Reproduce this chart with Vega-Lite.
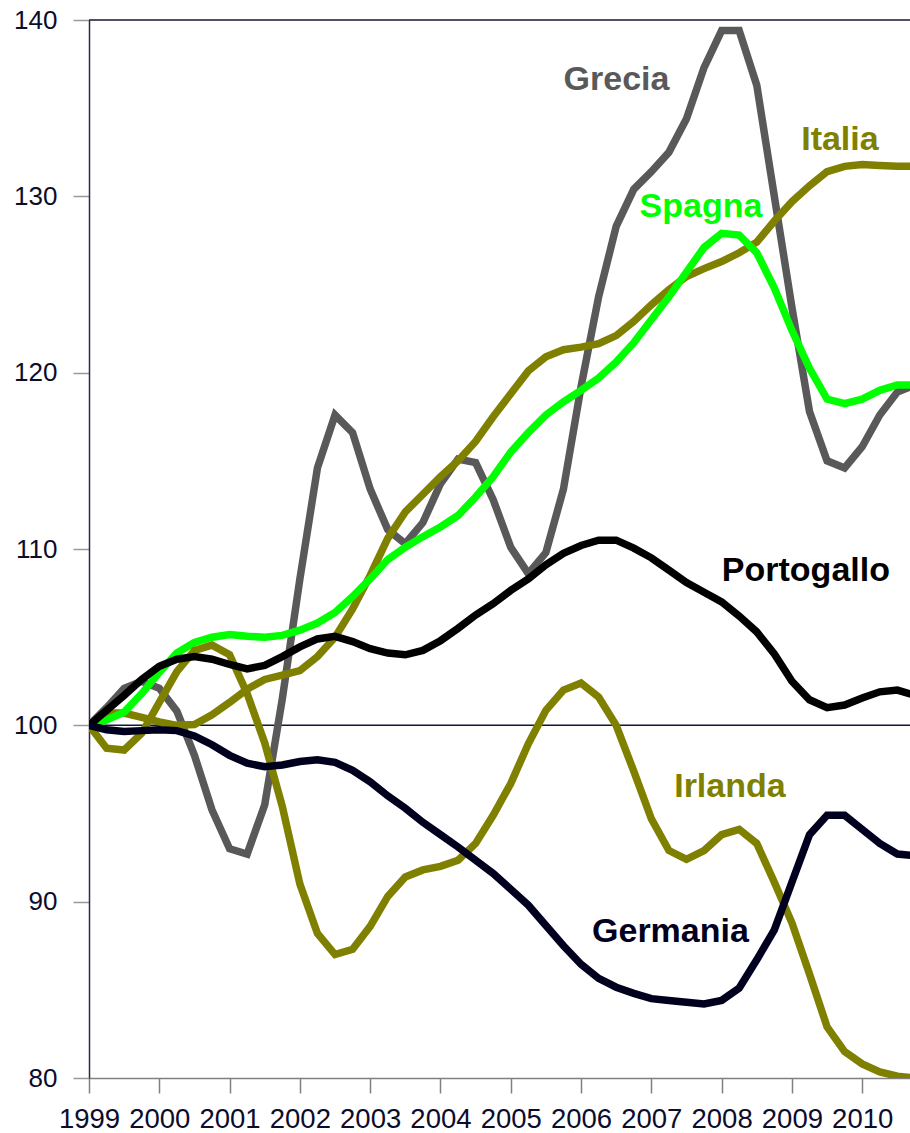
{
  "$schema": "https://vega.github.io/schema/vega-lite/v6.json",
  "width": 821,
  "height": 1058,
  "autosize": {"type": "none"},
  "padding": {"left": 89, "top": 20, "right": 0, "bottom": 55},
  "background": "white",
  "config": {"view": {"stroke": null}, "font": "Liberation Sans"},
  "datasets": {
    "series": [
      {"t": 1999, "Grecia": 100, "Spagna": 100, "Italia": 100, "Portogallo": 100, "Irlanda": 100, "Germania": 100},
      {"t": 1999.25, "Grecia": 101.0, "Spagna": 100.3, "Italia": 100.7, "Portogallo": 100.85, "Irlanda": 98.7, "Germania": 99.75},
      {"t": 1999.5, "Grecia": 102.1, "Spagna": 100.75, "Italia": 100.7, "Portogallo": 101.7, "Irlanda": 98.6, "Germania": 99.65},
      {"t": 1999.75, "Grecia": 102.5, "Spagna": 101.8, "Italia": 100.45, "Portogallo": 102.6, "Irlanda": 99.55, "Germania": 99.7},
      {"t": 2000, "Grecia": 102.1, "Spagna": 103.0, "Italia": 100.2, "Portogallo": 103.35, "Irlanda": 101.3, "Germania": 99.75},
      {"t": 2000.25, "Grecia": 100.8, "Spagna": 104.1, "Italia": 100.0, "Portogallo": 103.75, "Irlanda": 103.05, "Germania": 99.7},
      {"t": 2000.5, "Grecia": 98.3, "Spagna": 104.7, "Italia": 100.05, "Portogallo": 103.9, "Irlanda": 104.25, "Germania": 99.4},
      {"t": 2000.75, "Grecia": 95.2, "Spagna": 105.0, "Italia": 100.6, "Portogallo": 103.75, "Irlanda": 104.55, "Germania": 98.9},
      {"t": 2001, "Grecia": 93.0, "Spagna": 105.15, "Italia": 101.3, "Portogallo": 103.45, "Irlanda": 104.0, "Germania": 98.3},
      {"t": 2001.25, "Grecia": 92.7, "Spagna": 105.05, "Italia": 102.05, "Portogallo": 103.2, "Irlanda": 101.8, "Germania": 97.85},
      {"t": 2001.5, "Grecia": 95.5, "Spagna": 105.0, "Italia": 102.6, "Portogallo": 103.4, "Irlanda": 99.0, "Germania": 97.65},
      {"t": 2001.75, "Grecia": 101.5, "Spagna": 105.1, "Italia": 102.85, "Portogallo": 103.9, "Irlanda": 95.4, "Germania": 97.75},
      {"t": 2002, "Grecia": 108.3, "Spagna": 105.4, "Italia": 103.1, "Portogallo": 104.45, "Irlanda": 91.0, "Germania": 97.95},
      {"t": 2002.25, "Grecia": 114.6, "Spagna": 105.8, "Italia": 103.9, "Portogallo": 104.9, "Irlanda": 88.2, "Germania": 98.05},
      {"t": 2002.5, "Grecia": 117.6, "Spagna": 106.4, "Italia": 105.0, "Portogallo": 105.05, "Irlanda": 87.0, "Germania": 97.9},
      {"t": 2002.75, "Grecia": 116.6, "Spagna": 107.3, "Italia": 106.6, "Portogallo": 104.75, "Irlanda": 87.3, "Germania": 97.45},
      {"t": 2003, "Grecia": 113.4, "Spagna": 108.3, "Italia": 108.5, "Portogallo": 104.35, "Irlanda": 88.6, "Germania": 96.8},
      {"t": 2003.25, "Grecia": 111.1, "Spagna": 109.4, "Italia": 110.6, "Portogallo": 104.1, "Irlanda": 90.3, "Germania": 96.0},
      {"t": 2003.5, "Grecia": 110.3, "Spagna": 110.1, "Italia": 112.1, "Portogallo": 104.0, "Irlanda": 91.4, "Germania": 95.3},
      {"t": 2003.75, "Grecia": 111.5, "Spagna": 110.7, "Italia": 113.1, "Portogallo": 104.25, "Irlanda": 91.8, "Germania": 94.5},
      {"t": 2004, "Grecia": 113.7, "Spagna": 111.25, "Italia": 114.1, "Portogallo": 104.8, "Irlanda": 92.0, "Germania": 93.8},
      {"t": 2004.25, "Grecia": 115.1, "Spagna": 111.9, "Italia": 115.0, "Portogallo": 105.5, "Irlanda": 92.35, "Germania": 93.1},
      {"t": 2004.5, "Grecia": 114.9, "Spagna": 112.95, "Italia": 116.1, "Portogallo": 106.25, "Irlanda": 93.3, "Germania": 92.35},
      {"t": 2004.75, "Grecia": 112.8, "Spagna": 114.1, "Italia": 117.5, "Portogallo": 106.9, "Irlanda": 94.9, "Germania": 91.6},
      {"t": 2005, "Grecia": 110.1, "Spagna": 115.5, "Italia": 118.8, "Portogallo": 107.65, "Irlanda": 96.7, "Germania": 90.7},
      {"t": 2005.25, "Grecia": 108.6, "Spagna": 116.6, "Italia": 120.1, "Portogallo": 108.3, "Irlanda": 98.95, "Germania": 89.8},
      {"t": 2005.5, "Grecia": 109.8, "Spagna": 117.6, "Italia": 120.9, "Portogallo": 109.1, "Irlanda": 100.85, "Germania": 88.65},
      {"t": 2005.75, "Grecia": 113.4, "Spagna": 118.35, "Italia": 121.3, "Portogallo": 109.75, "Irlanda": 102.0, "Germania": 87.5},
      {"t": 2006, "Grecia": 119.2, "Spagna": 119.0, "Italia": 121.45, "Portogallo": 110.2, "Irlanda": 102.4, "Germania": 86.45},
      {"t": 2006.25, "Grecia": 124.3, "Spagna": 119.7, "Italia": 121.65, "Portogallo": 110.5, "Irlanda": 101.6, "Germania": 85.65},
      {"t": 2006.5, "Grecia": 128.3, "Spagna": 120.6, "Italia": 122.1, "Portogallo": 110.5, "Irlanda": 100.0, "Germania": 85.15},
      {"t": 2006.75, "Grecia": 130.4, "Spagna": 121.7, "Italia": 122.9, "Portogallo": 110.05, "Irlanda": 97.4, "Germania": 84.8},
      {"t": 2007, "Grecia": 131.4, "Spagna": 123.0, "Italia": 123.85, "Portogallo": 109.5, "Irlanda": 94.7, "Germania": 84.5},
      {"t": 2007.25, "Grecia": 132.5, "Spagna": 124.3, "Italia": 124.7, "Portogallo": 108.8, "Irlanda": 92.9, "Germania": 84.4},
      {"t": 2007.5, "Grecia": 134.4, "Spagna": 125.7, "Italia": 125.45, "Portogallo": 108.1, "Irlanda": 92.4, "Germania": 84.3},
      {"t": 2007.75, "Grecia": 137.3, "Spagna": 127.1, "Italia": 125.9, "Portogallo": 107.55, "Irlanda": 92.9, "Germania": 84.2},
      {"t": 2008, "Grecia": 139.4, "Spagna": 127.9, "Italia": 126.3, "Portogallo": 107.0, "Irlanda": 93.8, "Germania": 84.4},
      {"t": 2008.25, "Grecia": 139.4, "Spagna": 127.8, "Italia": 126.8, "Portogallo": 106.2, "Irlanda": 94.1, "Germania": 85.1},
      {"t": 2008.5, "Grecia": 136.3, "Spagna": 126.8, "Italia": 127.4, "Portogallo": 105.3, "Irlanda": 93.3, "Germania": 86.7},
      {"t": 2008.75, "Grecia": 130.0, "Spagna": 124.8, "Italia": 128.6, "Portogallo": 104.05, "Irlanda": 91.1, "Germania": 88.4},
      {"t": 2009, "Grecia": 123.7, "Spagna": 122.4, "Italia": 129.7, "Portogallo": 102.5, "Irlanda": 88.8, "Germania": 91.1},
      {"t": 2009.25, "Grecia": 117.8, "Spagna": 120.25, "Italia": 130.6, "Portogallo": 101.45, "Irlanda": 85.9, "Germania": 93.8},
      {"t": 2009.5, "Grecia": 115.0, "Spagna": 118.5, "Italia": 131.4, "Portogallo": 101.0, "Irlanda": 82.9, "Germania": 94.9},
      {"t": 2009.75, "Grecia": 114.6, "Spagna": 118.25, "Italia": 131.7, "Portogallo": 101.15, "Irlanda": 81.5, "Germania": 94.9},
      {"t": 2010, "Grecia": 115.8, "Spagna": 118.5, "Italia": 131.8, "Portogallo": 101.55, "Irlanda": 80.8, "Germania": 94.1},
      {"t": 2010.25, "Grecia": 117.6, "Spagna": 119.0, "Italia": 131.75, "Portogallo": 101.9, "Irlanda": 80.35, "Germania": 93.3},
      {"t": 2010.5, "Grecia": 118.9, "Spagna": 119.3, "Italia": 131.7, "Portogallo": 102.0, "Irlanda": 80.1, "Germania": 92.7},
      {"t": 2010.75, "Grecia": 119.3, "Spagna": 119.3, "Italia": 131.7, "Portogallo": 101.7, "Irlanda": 80.0, "Germania": 92.6}
    ],
    "rules": [{"v": 100}, {"v": 140}],
    "labels": [
      {"s": "Grecia", "t": 2006.504, "v": 136.6},
      {"s": "Italia", "t": 2009.683, "v": 133.2},
      {"s": "Spagna", "t": 2007.706, "v": 129.4},
      {"s": "Portogallo", "t": 2009.199, "v": 108.75},
      {"s": "Irlanda", "t": 2008.118, "v": 96.5},
      {"s": "Germania", "t": 2007.272, "v": 88.28}
    ]
  },
  "layer": [
    {
      "data": {"name": "rules"},
      "mark": {"type": "rule", "color": "#14143a", "strokeWidth": 1.5},
      "encoding": {
        "y": {"field": "v", "type": "quantitative", "title": null, "scale": {"domain": [80, 140], "nice": false, "zero": false}}
      }
    },
    {
      "data": {"name": "series"},
      "transform": [{"fold": ["Grecia", "Italia", "Spagna", "Irlanda", "Portogallo", "Germania"], "as": ["s", "v"]}],
      "mark": {"type": "line", "strokeWidth": 7.5, "clip": true},
      "encoding": {
        "x": {
          "field": "t", "type": "quantitative", "title": null,
          "scale": {"domain": [1999, 2010.68], "nice": false, "zero": false},
          "axis": {
            "values": [1999, 1999.25, 1999.5, 1999.75, 2000, 2000.25, 2000.5, 2000.75, 2001, 2001.25, 2001.5, 2001.75, 2002, 2002.25, 2002.5, 2002.75, 2003, 2003.25, 2003.5, 2003.75, 2004, 2004.25, 2004.5, 2004.75, 2005, 2005.25, 2005.5, 2005.75, 2006, 2006.25, 2006.5, 2006.75, 2007, 2007.25, 2007.5, 2007.75, 2008, 2008.25, 2008.5, 2008.75, 2009, 2009.25, 2009.5, 2009.75, 2010, 2010.25, 2010.5],
            "labelExpr": "datum.value % 1 == 0 ? '' + datum.value : ''",
            "tickSize": {"condition": {"test": "datum.value % 1 == 0", "value": 15}, "value": 8},
            "labelOverlap": false, "labelFlush": false, "labelBound": false,
            "labelPadding": 12, "labelFontSize": 27.5, "labelColor": "#0c0c2c",
            "domainColor": "#808080", "domainWidth": 1.5, "tickColor": "#808080", "tickWidth": 1.5,
            "grid": false
          }
        },
        "y": {
          "field": "v", "type": "quantitative", "title": null,
          "scale": {"domain": [80, 140], "nice": false, "zero": false},
          "axis": {
            "values": [80, 90, 100, 110, 120, 130, 140],
            "tickSize": 16, "labelPadding": 16, "labelFontSize": 26, "labelColor": "#0c0c2c",
            "domainColor": "#2a2a48", "domainWidth": 1.5, "tickColor": "#999999", "tickWidth": 1.5,
            "grid": false
          }
        },
        "color": {
          "field": "s", "type": "nominal", "legend": null,
          "scale": {"domain": ["Grecia", "Italia", "Spagna", "Irlanda", "Portogallo", "Germania"], "range": ["#595959", "#808000", "#00ff00", "#808000", "#000000", "#00001e"]}
        }
      }
    },
    {
      "data": {"name": "labels"},
      "mark": {"type": "text", "fontWeight": "bold", "fontSize": 34, "align": "center", "baseline": "middle"},
      "encoding": {
        "x": {"field": "t", "type": "quantitative", "title": null},
        "y": {"field": "v", "type": "quantitative", "title": null},
        "text": {"field": "s"},
        "color": {"field": "s", "type": "nominal", "legend": null}
      }
    }
  ]
}
